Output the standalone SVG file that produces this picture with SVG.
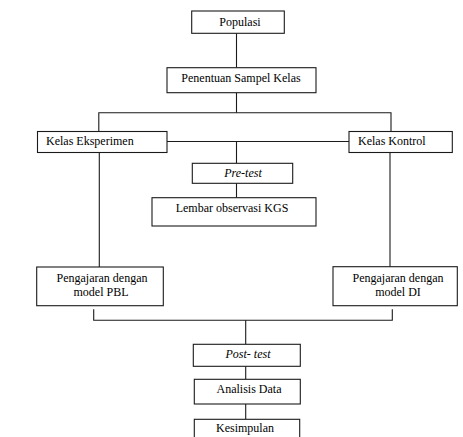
<svg xmlns="http://www.w3.org/2000/svg" width="463" height="437" viewBox="0 0 463 437">
<style>
.box{fill:#fff;stroke:#1a1a1a;stroke-width:1.1}
.ln{fill:none;stroke:#1a1a1a;stroke-width:1.1}
.c{text-anchor:middle}
.i{font-style:italic}
</style>
<rect width="463" height="437" fill="#fff"/>
<g id="connectors">
<path class="ln" d="M236.5 33.3V67.7"/>
<path class="ln" d="M236.5 92.7V112.7"/>
<path class="ln" d="M98.8 131.5V112.7H391V131.5"/>
<path class="ln" d="M167 141.5H349"/>
<path class="ln" d="M236.5 141.5V163.3"/>
<path class="ln" d="M236.5 183.3V197.7"/>
<path class="ln" d="M99.3 152.5V267"/>
<path class="ln" d="M390 152.5V267"/>
<path class="ln" d="M93.7 309.3V320.3H392.3V309.3"/>
<path class="ln" d="M245.7 320.3V344.3"/>
<path class="ln" d="M245.7 366.3V379.3"/>
<path class="ln" d="M245.7 404V419.3"/>
</g>
<g font-family="Liberation Serif" font-size="12" fill="#000">
<g id="populasi"><rect class="box" x="191.7" y="11" width="92.6" height="22.3"/><text class="c" x="240" y="26">Populasi</text></g>
<g id="penentuan"><rect class="box" x="167" y="67.7" width="149" height="25"/><text class="c" x="241" y="82">Penentuan Sampel Kelas</text></g>
<g id="kelas-eksperimen"><rect class="box" x="37.5" y="131.5" width="129.5" height="21"/><text x="46" y="145">Kelas Eksperimen</text></g>
<g id="kelas-kontrol"><rect class="box" x="349" y="131.5" width="103.3" height="21"/><text x="358" y="145">Kelas Kontrol</text></g>
<g id="pre-test"><rect class="box" x="192.3" y="163.3" width="100.4" height="20"/><text class="c i" x="243" y="177">Pre-test</text></g>
<g id="lembar"><rect class="box" x="152" y="197.7" width="164" height="28.3"/><text class="c" x="232" y="212">Lembar observasi KGS</text></g>
<g id="pbl"><rect class="box" x="36.7" y="267" width="126.6" height="38.7"/><text class="c" x="102" y="282">Pengajaran dengan</text><text class="c" x="101" y="296">model PBL</text></g>
<g id="di"><rect class="box" x="333" y="266.7" width="124.3" height="39"/><text class="c" x="398" y="282">Pengajaran dengan</text><text class="c" x="398" y="296">model DI</text></g>
<g id="post-test"><rect class="box" x="193.3" y="344.3" width="107" height="22"/><text class="c i" x="248" y="358">Post- test</text></g>
<g id="analisis"><rect class="box" x="194.3" y="379.3" width="106" height="24.7"/><text class="c" x="249" y="393">Analisis Data</text></g>
<g id="kesimpulan"><rect class="box" x="194.3" y="419.3" width="105.4" height="30"/><text class="c" x="245" y="432">Kesimpulan</text></g>
</g>
</svg>
